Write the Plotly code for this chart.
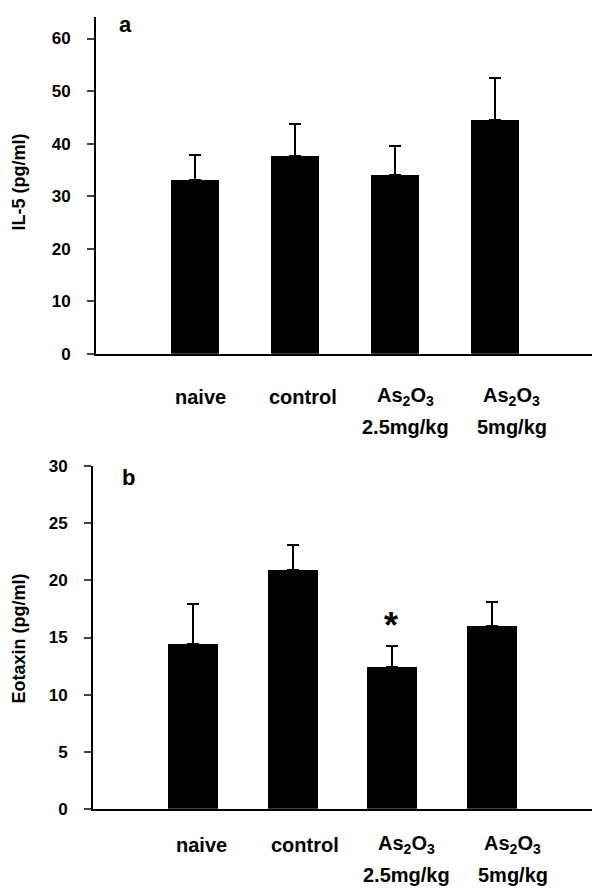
import plotly.graph_objects as go

# ---------------- data ----------------
categories = ["naive", "control", "As2O3 2.5mg/kg", "As2O3 5mg/kg"]
label_line1 = ["naive", "control", "As<sub>2</sub>O<sub>3</sub>", "As<sub>2</sub>O<sub>3</sub>"]
label_line2 = ["", "", "2.5mg/kg", "5mg/kg"]

il5_mean = [33.0, 37.6, 34.0, 44.5]
il5_err = [4.9, 6.2, 5.6, 8.0]

eotaxin_mean = [14.4, 20.9, 12.4, 16.0]
eotaxin_err = [3.5, 2.2, 1.9, 2.1]

il5_ticks = [0, 10, 20, 30, 40, 50, 60]
eotaxin_ticks = [0, 5, 10, 15, 20, 25, 30]

# ---------------- figure ----------------
W, H = 600, 895
OFF = 8  # page body margin in the rendered HTML
FONT = "Liberation Sans, Arial, sans-serif"
xpos = list(range(len(categories)))


def px(x):
    return (x - OFF) / W


def py(y):
    return (H - (y - OFF)) / H


def bfont(size):
    return dict(size=size, family=FONT, color="black", weight="bold")


fig = go.Figure()

for mean, err, xa, ya, bw in [(il5_mean, il5_err, "x", "y", 0.48),
                              (eotaxin_mean, eotaxin_err, "x2", "y2", 0.5)]:
    fig.add_trace(go.Bar(
        x=xpos, y=mean, width=bw,
        marker=dict(color="black", line=dict(width=0)),
        error_y=dict(type="data", array=err, arrayminus=[0] * len(err),
                     symmetric=False, color="black", thickness=2, width=6),
        xaxis=xa, yaxis=ya, showlegend=False, hoverinfo="skip",
    ))

axis_common = dict(showgrid=False, zeroline=False, showline=True, linecolor="black")

fig.update_layout(
    width=W, height=H,
    margin=dict(l=0, r=0, t=0, b=0),
    paper_bgcolor="white", plot_bgcolor="white",
    font=dict(family=FONT, color="black"),
    bargap=0,
    xaxis=dict(domain=[px(96), px(595)], range=[-0.985, 4.0], showticklabels=False,
               ticks="", anchor="y", linewidth=1.5, **axis_common),
    yaxis=dict(domain=[py(352), 1.0], range=[0, 64.1], tickvals=il5_ticks,
               ticks="outside", ticklen=7, tickwidth=2, linewidth=2, anchor="x",
               tickfont=bfont(17), ticklabelstandoff=13, **axis_common),
    xaxis2=dict(domain=[px(93), px(593)], range=[-1.0, 4.01], showticklabels=False,
                ticks="", anchor="y2", linewidth=2, **axis_common),
    yaxis2=dict(domain=[py(817), py(467)], range=[0, 30], tickvals=eotaxin_ticks,
                ticks="outside", ticklen=7, tickwidth=2, linewidth=2, anchor="x2",
                tickfont=bfont(17), ticklabelstandoff=13, **axis_common),
)

annotations = []
# y-axis titles
annotations.append(dict(x=px(19), y=py(177), xref="paper", yref="paper", text="IL-5 (pg/ml)",
                        textangle=-90, showarrow=False, font=bfont(18), xanchor="center", yanchor="middle"))
annotations.append(dict(x=px(19), y=py(643), xref="paper", yref="paper", text="Eotaxin (pg/ml)",
                        textangle=-90, showarrow=False, font=bfont(18), xanchor="center", yanchor="middle"))

# category labels (two lines, placed below each panel)
panels = [("x", "y domain", 43, 73, [5.5, 8.5, 10.5, 17]),
          ("x2", "y2 domain", 36, 66, [8.4, 12, 13.7, 20.5])]
for xr, yr, off1, off2, shifts in panels:
    for i in xpos:
        annotations.append(dict(x=i, y=0, xref=xr, yref=yr, yshift=-off1, xshift=shifts[i],
                                text=label_line1[i], showarrow=False,
                                font=bfont(20), yanchor="middle", xanchor="center"))
        if label_line2[i]:
            annotations.append(dict(x=i, y=0, xref=xr, yref=yr, yshift=-off2, xshift=shifts[i],
                                    text=label_line2[i], showarrow=False,
                                    font=bfont(20), yanchor="middle", xanchor="center"))

# panel letters
annotations.append(dict(x=px(125), y=py(16), xref="paper", yref="paper", text="a",
                        showarrow=False, font=bfont(22), xanchor="center", yanchor="middle"))
annotations.append(dict(x=px(128), y=py(478), xref="paper", yref="paper", text="b",
                        showarrow=False, font=bfont(22), xanchor="center", yanchor="middle"))

# significance star above As2O3 2.5mg/kg in panel b
annotations.append(dict(x=2, y=eotaxin_mean[2] + eotaxin_err[2], xref="x2", yref="y2",
                        yshift=20, xshift=-1, text="*", showarrow=False,
                        font=bfont(36), xanchor="center", yanchor="middle"))

fig.update_layout(annotations=annotations)

fig.write_html("out.html")
